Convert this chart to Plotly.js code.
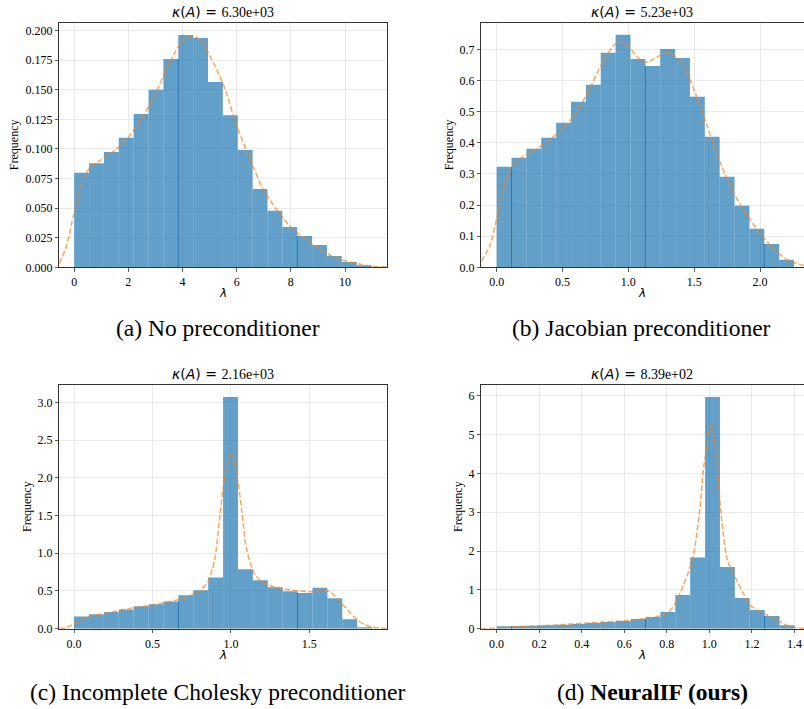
<!DOCTYPE html>
<html><head><meta charset="utf-8">
<script src="https://cdn.plot.ly/plotly-3.0.1.min.js"></script>
<style>html,body{margin:0;padding:0;background:#fff}#chart{width:804px;height:709px}</style>
</head><body><div id="chart"></div>
<script>
// ---------- data ----------
const condNumbers = ['6.30e+03', '5.23e+03', '2.16e+03', '8.39e+02'];
const captionLabels = ['(a)', '(b)', '(c)', '(d)'];
const captionTexts = ['No preconditioner', 'Jacobian preconditioner', 'Incomplete Cholesky preconditioner', 'NeuralIF (ours)'];

// histogram bins: [start, width]
const aBins = [0, 0.549];
const bBins = [0, 0.1129];
const cBins = [0, 0.095];
const dBins = [0, 0.070];

const aFreq = [0.080, 0.088, 0.0975, 0.1096, 0.1296, 0.150, 0.176, 0.1963, 0.1938, 0.1566,
               0.1285, 0.0992, 0.0662, 0.0479, 0.0341, 0.0265, 0.0189, 0.0096, 0.0045, 0.0017];
const bFreq = [0.323, 0.352, 0.381, 0.416, 0.4645, 0.532, 0.5865, 0.689, 0.747, 0.669,
               0.6465, 0.701, 0.672, 0.548, 0.4196, 0.291, 0.198, 0.124, 0.075, 0.0246];
const cFreq = [0.163, 0.19, 0.221, 0.256, 0.296, 0.323, 0.362, 0.442, 0.508, 0.68,
               3.07, 0.787, 0.641, 0.548, 0.495, 0.473, 0.544, 0.402, 0.124, 0.018];
const dFreq = [0.06, 0.069, 0.077, 0.086, 0.10, 0.12, 0.146, 0.17, 0.197, 0.25,
               0.30, 0.43, 0.867, 1.837, 5.966, 1.59, 0.79, 0.48, 0.326, 0.086];

// darker bin-edge strokes: edge index
const aEdgeIdx = [7, 15];
const bEdgeIdx = [1, 10, 18];
const cEdgeIdx = [7, 15];
const dEdgeIdx = [1, 10, 18];

// KDE curves
const aKdeX = [-0.55, -0.3, 0, 0.3, 0.6, 1.0, 1.5, 2.0, 2.5, 3.0, 3.5, 4.0, 4.35, 4.7, 5.0, 5.5, 6.0, 6.5, 7.0, 7.5, 8.0, 8.5, 9.0, 9.5, 10.0, 10.5, 11.0, 11.55];
const aKdeY = [0.003, 0.017, 0.046, 0.072, 0.085, 0.091, 0.099, 0.110, 0.126, 0.147, 0.172, 0.1915, 0.196, 0.191, 0.179, 0.155, 0.120, 0.091, 0.065, 0.048, 0.034, 0.0245, 0.0166, 0.0096, 0.0056, 0.0028, 0.001, 0.0003];
const bKdeX = [-0.117, -0.05, 0, 0.05, 0.1, 0.15, 0.2, 0.3, 0.4, 0.5, 0.6, 0.7, 0.8, 0.9, 0.95, 1.0, 1.1, 1.15, 1.2, 1.3, 1.4, 1.5, 1.6, 1.7, 1.8, 1.9, 2.0, 2.1, 2.2, 2.334];
const bKdeY = [0.018, 0.072, 0.157, 0.248, 0.3125, 0.339, 0.355, 0.379, 0.409, 0.446, 0.494, 0.569, 0.655, 0.717, 0.725, 0.709, 0.6625, 0.659, 0.671, 0.689, 0.66, 0.569, 0.452, 0.334, 0.238, 0.168, 0.109, 0.061, 0.0257, 0.005];
const cKdeX = [-0.094, -0.05, 0, 0.1, 0.2, 0.3, 0.4, 0.5, 0.6, 0.7, 0.8, 0.85, 0.88, 0.9, 0.93, 0.96, 1.0, 1.04, 1.07, 1.1, 1.15, 1.2, 1.3, 1.4, 1.5, 1.55, 1.6, 1.65, 1.7, 1.75, 1.8, 1.85, 1.9, 1.993];
const cKdeY = [0.003, 0.013, 0.066, 0.16, 0.203, 0.247, 0.283, 0.314, 0.354, 0.407, 0.50, 0.61, 0.78, 0.95, 1.5, 2.0, 2.34, 2.0, 1.55, 1.05, 0.73, 0.62, 0.54, 0.51, 0.49, 0.50, 0.51, 0.46, 0.345, 0.234, 0.124, 0.057, 0.022, 0.003];
const dKdeX = [-0.072, 0, 0.1, 0.2, 0.3, 0.4, 0.5, 0.6, 0.7, 0.75, 0.8, 0.83, 0.862, 0.92, 0.953, 0.976, 1.01, 1.036, 1.055, 1.085, 1.128, 1.16, 1.19, 1.238, 1.285, 1.332, 1.38, 1.445];
const dKdeY = [0.0, 0.02, 0.05, 0.077, 0.10, 0.137, 0.17, 0.206, 0.266, 0.31, 0.39, 0.57, 0.91, 1.77, 2.97, 4.26, 5.24, 4.26, 2.97, 1.77, 1.25, 0.91, 0.61, 0.44, 0.31, 0.18, 0.05, 0.01];

// ---------- layout geometry (pixels) ----------
const W = 804, H = 709;
const panels = [
  {bins: aBins, freq: aFreq, edges: aEdgeIdx, kx: aKdeX, ky: aKdeY, px: [59.3, 387], py: [23, 267.3], xr: [-0.55, 11.55], yr: [0, 0.2065], xdt: 2, xfmt: 'd', ydt: 0.025, yfmt: '.3f', ytitleX: 14, capX: 218, capY: 328, rightLine: true},
  {bins: bBins, freq: bFreq, edges: bEdgeIdx, kx: bKdeX, ky: bKdeY, px: [481.3, 804], py: [23, 267.3], xr: [-0.117, 2.334], yr: [0, 0.7845], xdt: 0.5, xfmt: '.1f', ydt: 0.1, yfmt: '.1f', ytitleX: 449, capX: 641, capY: 328, rightLine: false},
  {bins: cBins, freq: cFreq, edges: cEdgeIdx, kx: cKdeX, ky: cKdeY, px: [59.3, 386.7], py: [385.3, 628.7], xr: [-0.094, 1.993], yr: [0, 3.226], xdt: 0.5, xfmt: '.1f', ydt: 0.5, yfmt: '.1f', ytitleX: 27, capX: 217, capY: 692, rightLine: true},
  {bins: dBins, freq: dFreq, edges: dEdgeIdx, kx: dKdeX, ky: dKdeY, px: [481.3, 804], py: [385.3, 628.7], xr: [-0.072, 1.445], yr: [0, 6.27], xdt: 0.2, xfmt: '.1f', ydt: 1, yfmt: 'd', ytitleX: 458, capX: 652, capY: 692, rightLine: false}
];

const serif = 'Liberation Serif, Times New Roman, serif';
const traces = [];
const layout = {
  width: W, height: H, margin: {l: 0, r: 0, t: 0, b: 0},
  paper_bgcolor: '#fff', plot_bgcolor: '#fff', showlegend: false,
  font: {family: serif, size: 12, color: '#000'},
  annotations: []
};

panels.forEach((p, i) => {
  const n = i + 1;
  const xa = n === 1 ? 'x' : 'x' + n, ya = n === 1 ? 'y' : 'y' + n;
  const [b0, bw] = p.bins;
  const lefts = p.freq.map((_, k) => b0 + k * bw);
  traces.push({type: 'bar', x: lefts, y: p.freq, width: p.freq.map(() => bw), offset: 0,
    marker: {color: 'rgba(31,119,180,0.7)', line: {width: 0}}, xaxis: xa, yaxis: ya, hoverinfo: 'skip'});
  const ex = [], ey = [];
  p.edges.forEach(k => {
    const e = b0 + k * bw;
    const h = Math.min(p.freq[k - 1], p.freq[k]);
    ex.push(e, e, null); ey.push(0, h, null);
  });
  traces.push({type: 'scatter', mode: 'lines', x: ex, y: ey, line: {color: '#1f77b4', width: 1}, xaxis: xa, yaxis: ya, hoverinfo: 'skip'});
  traces.push({type: 'scatter', mode: 'lines', x: p.kx, y: p.ky, line: {color: 'rgba(255,127,14,0.7)', width: 1.5, dash: '5.5px,2.4px', shape: 'spline', smoothing: 0.8}, xaxis: xa, yaxis: ya, hoverinfo: 'skip'});

  const common = {showline: true, linecolor: '#333', linewidth: 1, ticks: 'outside', ticklen: 3.5, tickwidth: 0.8, tickcolor: '#333',
    showgrid: true, gridcolor: '#e3e3e3', gridwidth: 0.8, zeroline: false, tickfont: {family: serif, size: 12, color: '#000'}, fixedrange: true};
  layout[n === 1 ? 'xaxis' : 'xaxis' + n] = Object.assign({}, common, {mirror: true,
    domain: [p.px[0] / W, p.px[1] / W], range: p.xr, anchor: ya, dtick: p.xdt, tick0: 0, tickformat: p.xfmt});
  layout[n === 1 ? 'yaxis' : 'yaxis' + n] = Object.assign({}, common, {mirror: p.rightLine,
    domain: [1 - p.py[1] / H, 1 - p.py[0] / H], range: p.yr, anchor: xa, dtick: p.ydt, tick0: 0, tickformat: p.yfmt});

  const cx = (p.px[0] + (p.rightLine ? p.px[1] : p.px[1] - 1)) / 2;
  // title
  layout.annotations.push({xref: 'paper', yref: 'paper', x: cx / W, y: 1 - (p.py[0] - 11) / H, xanchor: 'center', yanchor: 'middle', showarrow: false,
    text: '<span style="font-family:DejaVu Sans"><i>κ</i>(<i>A</i>) = </span>' + condNumbers[i], font: {family: serif, size: 14, color: '#000'}});
  // x title
  layout.annotations.push({xref: 'paper', yref: 'paper', x: cx / W, y: 1 - (p.py[1] + 26) / H, xanchor: 'center', yanchor: 'middle', showarrow: false,
    text: '<i>λ</i>', font: {family: 'DejaVu Sans', size: 12, color: '#000'}});
  // y title
  layout.annotations.push({xref: 'paper', yref: 'paper', x: p.ytitleX / W, y: 1 - ((p.py[0] + p.py[1]) / 2) / H, xanchor: 'center', yanchor: 'middle', showarrow: false, textangle: -90,
    text: 'Frequency', font: {family: serif, size: 12, color: '#000'}});
  // caption
  const capBody = i === 3 ? '<b>' + captionTexts[i] + '</b>' : captionTexts[i];
  layout.annotations.push({xref: 'paper', yref: 'paper', x: p.capX / W, y: 1 - p.capY / H, xanchor: 'center', yanchor: 'middle', showarrow: false,
    text: captionLabels[i] + ' ' + capBody, font: {family: serif, size: 23.5, color: '#000'}});
});

Plotly.newPlot('chart', traces, layout, {staticPlot: true, displayModeBar: false});
</script>
</body></html>
